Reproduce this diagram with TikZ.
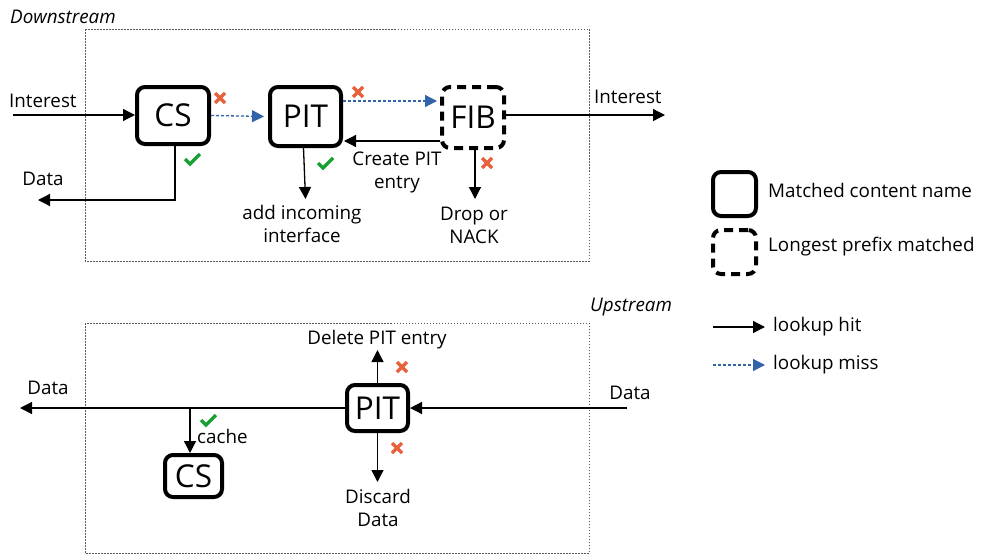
\documentclass[tikz,border=0pt]{standalone}
\usepackage{fontspec}
\setmainfont{Open Sans}
\usetikzlibrary{arrows.meta}
\definecolor{chk}{RGB}{25,160,50}
\definecolor{crs}{RGB}{232,96,60}
\definecolor{mblue}{RGB}{50,100,170}
\begin{document}
\begin{tikzpicture}[x=1pt,y=-1pt,
  box/.style={draw, line width=4pt, rounded corners=8pt, inner sep=0pt, font=\fontsize{31.5}{33}\selectfont},
  dbox/.style={box, dash pattern=on 9pt off 6pt},
  lbl/.style={inner sep=0pt, align=center, font=\fontsize{18.8}{23}\selectfont},
  ttl/.style={inner sep=0pt, anchor=west, font=\fontsize{18.8}{23}\selectfont\itshape},
  hit/.style={line width=1.3pt, -{Triangle[length=12pt,width=12pt]}},
  miss/.style={line width=1.3pt, mblue, dash pattern=on 3pt off 2pt, -{Triangle[length=12pt,width=12pt]}},
  frame/.style={gray!70!black, line width=0.8pt, dash pattern=on 1.5pt off 1.5pt},
  ok/.pic={\draw[chk, line width=3.2pt] (-7,0) -- (-2,5) -- (8,-5);},
  no/.pic={\draw[crs, line width=3.5pt] (-5,-5) -- (5,5) (-5,5) -- (5,-5);}
]
\useasboundingbox (0,0) rectangle (994,557);
% frames
\draw[frame] (85,29) rectangle (589,261);
\draw[frame] (85,323) rectangle (589,553);
\node[ttl] (tdown) at (10,17) {Downstream};
\node[ttl] (tup) at (590,307) {Upstream};

% downstream nodes
\node[box, minimum width=72pt, minimum height=57pt] (cs) at (173,115.5) {CS};
\node[box, minimum width=71pt, minimum height=59pt] (pit) at (305.5,116.5) {PIT};
\node[dbox, minimum width=62pt, minimum height=61pt] (fib) at (473,117.5) {FIB};

\coordinate (inS) at (13,115);
\coordinate (dataout) at (38,200);
\coordinate (pitd) at (303,199);
\coordinate (fibd) at (475,199);
\coordinate (outI) at (665,115);

\draw[hit] (inS) -- (inS -| cs.west);
\node[lbl, anchor=west] (lint) at (9,101) {Interest};
\draw[miss, shorten >=4pt] (cs.east) -- (pit.west);
\draw[hit] ([xshift=2pt]cs.south) |- (dataout);
\node[lbl] (ldata1) at (43,179) {Data};
\draw[hit] ([xshift=-2pt]pit.south) -- (pit.south |- pitd);
\node[lbl] (ladd) at (302,224) {add incoming\\interface};
\draw[miss, shorten >=3pt] ([yshift=15.5pt]pit.east) -- ([yshift=16.5pt]fib.west);
\draw[hit, shorten >=1pt] ([yshift=-23.5pt]fib.west) -- ([yshift=-24.5pt]pit.east);
\node[lbl] (lcreate) at (397,172) {Create PIT\\entry};
\draw[hit] ([xshift=2pt]fib.south) -- ([xshift=2pt]fib.south |- fibd);
\node[lbl] (ldrop) at (474,225) {Drop or\\NACK};
\draw[hit] (fib.east |- outI) -- (outI);
\node[lbl, anchor=west] (lint2) at (594,97) {Interest};

\pic at (220,98) {no};
\pic at (192,159) {ok};
\pic at (325,163) {ok};
\pic at (358,92) {no};
\pic at (487,163) {no};

% legend
\node[box, minimum width=43pt, minimum height=44pt] (lg1) at (734.5,194) {};
\node[dbox, minimum width=43pt, minimum height=44pt] (lg2) at (734.5,252) {};
\node[lbl, anchor=west] (lm) at (768,190) {Matched content name};
\node[lbl, anchor=west] (ll) at (768,247) {Longest prefix matched};
\coordinate (lh1) at (713,327);
\coordinate (lh2) at (765,327);
\coordinate (lm1) at (713,365);
\coordinate (lm2) at (765,365);
\draw[hit] (lh1) -- (lh2);
\draw[miss] (lm1) -- (lm2);
\node[lbl, anchor=west] (lhit) at (773,327) {lookup hit};
\node[lbl, anchor=west] (lmiss) at (773,365) {lookup miss};

% upstream
\node[box, minimum width=61pt, minimum height=46pt] (bpit) at (377.5,408) {PIT};
\node[box, minimum width=57pt, minimum height=42pt] (bcs) at (193.5,476) {CS};
\coordinate (dIn) at (627,408);
\coordinate (dOut) at (20,408);
\coordinate (br) at (190,408);
\coordinate (bup) at (378,350);
\coordinate (bdn) at (378,482);
\draw[hit] (dIn) -- (bpit.east);
\node[lbl] (ldata3) at (630,393) {Data};
\draw[hit] (bpit.west) -- (dOut);
\node[lbl] (ldata2) at (48,388) {Data};
\draw[hit] (br) -- (br |- bcs.north);
\node[lbl, anchor=west] (lcache) at (197,436) {cache};
\draw[hit] (bpit.north) -- (bpit.north |- bup);
\node[lbl] (ldel) at (377,340) {Delete PIT entry};
\draw[hit] (bpit.south) -- (bpit.south |- bdn);
\node[lbl] (ldisc) at (378,508) {Discard\\Data};
\pic at (208,420) {ok};
\pic at (402,367) {no};
\pic at (397,448) {no};
\end{tikzpicture}
\end{document}
